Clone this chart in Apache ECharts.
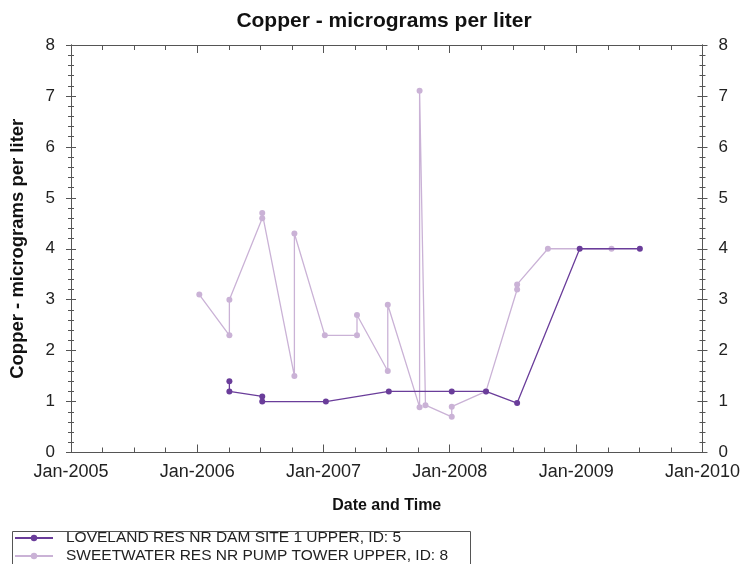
<!DOCTYPE html>
<html>
<head>
<meta charset="utf-8">
<script src="https://cdn.jsdelivr.net/npm/echarts@6/dist/echarts.min.js"></script>
<style>html,body{margin:0;padding:0;background:#fff}#c{width:743px;height:564px}</style>
</head>
<body>
<div id="c"></div>
<script>
const titleText = 'Copper - micrograms per liter';
const xAxisName = 'Date and Time';
const yAxisName = 'Copper - micrograms per liter';
const seriesNames = ['LOVELAND RES NR DAM SITE 1 UPPER, ID: 5', 'SWEETWATER RES NR PUMP TOWER UPPER, ID: 8'];
const xMin = '2005-01-01';
const xMax = '2010-01-01';
const monthNames = ['Jan','Feb','Mar','Apr','May','Jun','Jul','Aug','Sep','Oct','Nov','Dec'];

const lovelandDates = ['2006-04-04','2006-04-04','2006-07-08','2006-07-08','2007-01-08','2007-07-09','2008-01-07','2008-04-15','2008-07-14','2009-01-11','2009-07-04'];
const lovelandValues = [1.4, 1.2, 1.1, 1.0, 1.0, 1.2, 1.2, 1.2, 0.97, 4.0, 4.0];

const sweetDates = ['2006-01-07','2006-04-04','2006-04-04','2006-07-08','2006-07-08','2006-10-09','2006-10-09','2007-01-05','2007-04-08','2007-04-08','2007-07-06','2007-07-06','2007-10-06','2007-10-06','2007-10-23','2008-01-07','2008-01-07','2008-04-15','2008-07-14','2008-07-14','2008-10-11','2009-04-13'];
const sweetValues = [3.1, 2.3, 3.0, 4.6, 4.7, 1.5, 4.3, 2.3, 2.3, 2.7, 1.6, 2.9, 0.89, 7.1, 0.93, 0.7, 0.9, 1.2, 3.2, 3.3, 4.0, 4.0];

const colors = ['#6a3d9a', '#cab2d6'];
const FONT = '"Liberation Sans", Arial, sans-serif';
const axisColor = '#555';

function pair(d, v) { return d.map((x, i) => [x, v[i]]); }

const chart = echarts.init(document.getElementById('c'));

function yAx(pos, showLabel, inside) {
  return {
    type: 'value', min: 0, max: 8, interval: 1, position: pos,
    axisLine: { show: true, lineStyle: { color: axisColor, width: 1 } },
    axisTick: { show: true, inside: inside, length: 5, lineStyle: { color: axisColor } },
    minorTick: { show: true, splitNumber: 5, length: 3, lineStyle: { color: axisColor } },
    axisLabel: { show: showLabel, margin: 16, color: '#222', fontFamily: FONT, fontSize: 17 },
    splitLine: { show: false },
    name: (showLabel && pos === 'left') ? yAxisName : '',
    nameLocation: 'middle', nameGap: 44,
    nameTextStyle: { fontFamily: FONT, fontWeight: 'bold', fontSize: 18.5, color: '#111' }
  };
}

function legendFor(i, top) {
  return {
    orient: 'horizontal', left: 14, top: top, itemWidth: 38, itemHeight: 8, padding: 0,
    textStyle: { fontFamily: FONT, fontSize: 15.5, color: '#222', padding: [0, 0, 0, 8] },
    data: [seriesNames[i]]
  };
}

chart.setOption({
  backgroundColor: '#fff',
  animation: false,
  title: {
    text: titleText, left: 379, top: 6, textAlign: 'center',
    textStyle: { fontFamily: FONT, fontWeight: 'bold', fontSize: 21, color: '#111' }
  },
  grid: { left: 70, right: 38, top: 45, bottom: 111.5, containLabel: false },
  xAxis: [{
    type: 'time', min: xMin, max: xMax, splitNumber: 5, position: 'bottom',
    axisLine: { show: true, onZero: false, lineStyle: { color: axisColor } },
    axisTick: { show: true, inside: true, length: 8, lineStyle: { color: axisColor } },
    minorTick: { show: true, splitNumber: 4, length: 5, lineStyle: { color: axisColor } },
    axisLabel: {
      margin: 11, color: '#222', fontFamily: FONT, fontSize: 18, showMinLabel: true, showMaxLabel: true,
      formatter: function (v) { const d = new Date(v); return monthNames[d.getMonth()] + '-' + d.getFullYear(); }
    },
    splitLine: { show: false },
    name: xAxisName, nameLocation: 'middle', nameGap: 45,
    nameTextStyle: { fontFamily: FONT, fontWeight: 'bold', fontSize: 16, color: '#111' }
  }, {
    type: 'time', min: xMin, max: xMax, splitNumber: 5, position: 'top',
    axisLine: { show: true, onZero: false, lineStyle: { color: axisColor } },
    axisTick: { show: true, inside: true, length: 8, lineStyle: { color: axisColor } },
    minorTick: { show: true, splitNumber: 4, length: 5, lineStyle: { color: axisColor } },
    axisLabel: { show: false }, splitLine: { show: false }
  }],
  yAxis: [yAx('left', true, false), yAx('left', false, true), yAx('right', true, false), yAx('right', false, true)],
  legend: [legendFor(0, 530), legendFor(1, 548)],
  graphic: [{
    type: 'rect', left: 10, top: 529, shape: { width: 458, height: 40 },
    style: { fill: 'none', stroke: '#555', lineWidth: 1 }, z: 100
  }],
  series: [{
    name: seriesNames[0], type: 'line', xAxisIndex: 0, yAxisIndex: 0,
    data: pair(lovelandDates, lovelandValues),
    symbol: 'circle', symbolSize: 6, showSymbol: true,
    itemStyle: { color: colors[0] }, lineStyle: { color: colors[0], width: 1.3 }, z: 3
  }, {
    name: seriesNames[1], type: 'line', xAxisIndex: 0, yAxisIndex: 0,
    data: pair(sweetDates, sweetValues),
    symbol: 'circle', symbolSize: 6, showSymbol: true,
    itemStyle: { color: colors[1] }, lineStyle: { color: colors[1], width: 1.3 }, z: 2
  }]
});
</script>
</body>
</html>
